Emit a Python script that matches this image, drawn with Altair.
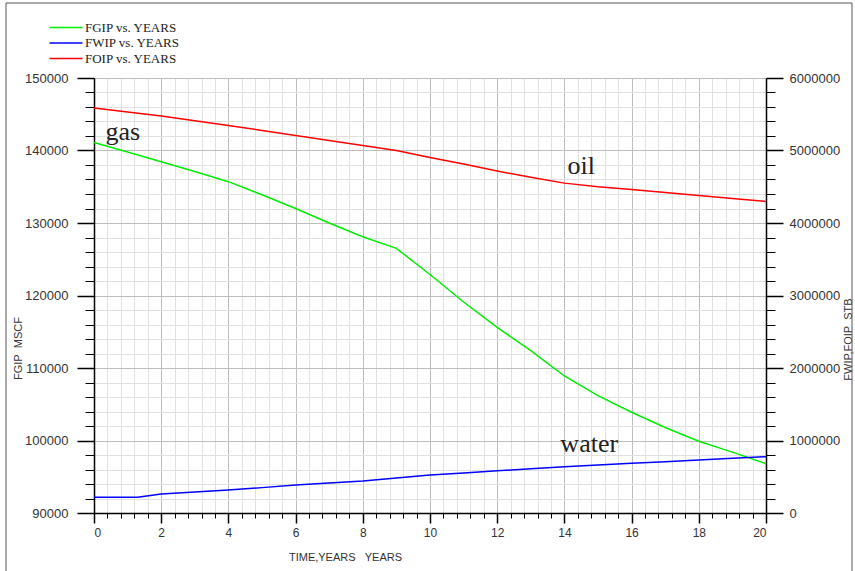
import altair as alt
import pandas as pd

# ---------------- data ----------------
YEARS = list(range(21))
FGIP = [141100, 139800, 138450, 137100, 135700, 133900, 132000, 130000,
        128100, 126500, 122900, 119100, 115600, 112400, 108900, 106200,
        103900, 101800, 99900, 98400, 96800]
FOIP = [5586000, 5530000, 5476000, 5410000, 5345000, 5276000, 5207000,
        5138000, 5069000, 5000000, 4903000, 4814000, 4717000, 4630000,
        4550000, 4500000, 4462000, 4420000, 4379000, 4338000, 4297000]
FWIP_YEARS = [0, 1, 1.3, 2, 3, 4, 5, 6, 7, 8, 9, 10, 11, 12, 13, 14, 15,
              16, 17, 18, 19, 20]
FWIP = [216000, 216000, 216000, 262000, 290000, 317000, 350000, 386000,
        413000, 441000, 482000, 524000, 553000, 582000, 610000, 638000,
        662000, 685000, 708000, 731000, 754000, 777000]

SERIES = ["FGIP vs. YEARS", "FWIP vs. YEARS", "FOIP vs. YEARS"]
COLORS = ["#00ee00", "#0000ff", "#ff0000"]

NOTE_TEXT = ["gas", "oil", "water"]
NOTE_YEARS = [0.34, 14.09, 13.88]
NOTE_VALUES = [141450, 136760, 98410]

X_MAJOR = list(range(0, 21, 2))
X_MINOR = [round(i * 0.4, 1) for i in range(51) if i % 5 != 0]
YL_MAJOR = list(range(90000, 150001, 10000))
YL_MINOR = [v for v in range(90000, 150001, 2000) if v % 10000 != 0]
YR_MAJOR = list(range(0, 6000001, 1000000))
YR_MINOR = [v for v in range(0, 6000001, 200000) if v % 1000000 != 0]

# ---------------- tables ----------------
gas_df = pd.DataFrame({"year": YEARS, "value": FGIP, "series": SERIES[0]})
stb_df = pd.concat([
    pd.DataFrame({"year": FWIP_YEARS, "value": FWIP, "series": SERIES[1]}),
    pd.DataFrame({"year": YEARS, "value": FOIP, "series": SERIES[2]}),
], ignore_index=True)
note_df = pd.DataFrame({"year": NOTE_YEARS, "value": NOTE_VALUES, "text": NOTE_TEXT})
frame_df = pd.DataFrame({"a": [0]})

# ---------------- style ----------------
SANS = "Liberation Sans"
SERIF = "Liberation Serif"
TXT = "#333333"
GRID_MAJOR = "#bdbdbd"
GRID_MINOR = "#e0e0e0"

def xs():
    return alt.Scale(domain=[0, 20], nice=False, zero=False)

def yls():
    return alt.Scale(domain=[90000, 150000], nice=False, zero=False)

def yrs():
    return alt.Scale(domain=[0, 6000000], nice=False, zero=False)

color = alt.Color(
    "series:N",
    sort=SERIES,
    scale=alt.Scale(domain=SERIES, range=COLORS),
    legend=alt.Legend(
        title=None, orient="none", legendX=-47, legendY=-57,
        symbolType="M-1,0H7.25", symbolSize=64, symbolStrokeWidth=1.5,
        labelOffset=25, labelFont=SERIF, labelFontSize=13, labelColor="#222222",
        rowPadding=1.5, padding=0,
    ),
)

# minor ticks + minor grid (left / bottom)
minor_left = alt.Chart(gas_df).mark_point(opacity=0).encode(
    x=alt.X("year:Q", scale=xs(), axis=alt.Axis(
        orient="bottom", values=X_MINOR, labels=False, domain=False,
        tickSize=5, tickColor="black", tickWidth=1, grid=True,
        gridColor=GRID_MINOR, gridWidth=1, title=None)),
    y=alt.Y("value:Q", scale=yls(), axis=alt.Axis(
        orient="left", values=YL_MINOR, labels=False, domain=False,
        tickSize=9, tickColor="black", tickWidth=1, grid=True,
        gridColor=GRID_MINOR, gridWidth=1, title=None)),
)

# FGIP line with major left / bottom axes
gas_line = alt.Chart(gas_df).mark_line(strokeWidth=1.5).encode(
    x=alt.X("year:Q", scale=xs(), axis=alt.Axis(
        orient="bottom", values=X_MAJOR, format="d", tickSize=10,
        tickColor="black", tickWidth=1.5, domainColor="black", domainWidth=1.5,
        labelFont=SANS, labelFontSize=12, labelColor=TXT, labelPadding=4,
        grid=True, gridColor=GRID_MAJOR, gridWidth=1,
        title="TIME,YEARS\u00a0\u00a0\u00a0YEARS", titleFont=SANS,
        titleFontSize=11, titleFontWeight="normal", titleColor=TXT,
        titleX=251, titleY=44, titleAlign="center", titleBaseline="middle")),
    y=alt.Y("value:Q", scale=yls(), axis=alt.Axis(
        orient="left", values=YL_MAJOR, format="d", tickSize=17,
        tickColor="black", tickWidth=1.5, domainColor="black", domainWidth=1.5,
        labelFont=SANS, labelFontSize=13, labelColor=TXT, labelPadding=9,
        grid=True, gridColor=GRID_MAJOR, gridWidth=1,
        title="FGIP\u00a0\u00a0MSCF", titleFont=SANS, titleFontSize=11,
        titleFontWeight="normal", titleColor=TXT, titleAngle=270,
        titleX=-76, titleY=270, titleAlign="center", titleBaseline="middle")),
    color=color,
)

# FWIP / FOIP lines with major right axis
stb_line = alt.Chart(stb_df).mark_line(strokeWidth=1.5).encode(
    x=alt.X("year:Q", scale=xs(), axis=None),
    y=alt.Y("value:Q", scale=yrs(), axis=alt.Axis(
        orient="right", values=YR_MAJOR, format="d", tickSize=17,
        tickColor="black", tickWidth=1.5, domainColor="black", domainWidth=1.5,
        labelFont=SANS, labelFontSize=13, labelColor=TXT, labelPadding=6,
        grid=False,
        title="FWIP,FOIP\u00a0\u00a0STB", titleFont=SANS, titleFontSize=11,
        titleFontWeight="normal", titleColor=TXT, titleAngle=270,
        titleX=82, titleY=261, titleAlign="center", titleBaseline="middle")),
    color=color,
    detail="series:N",
)

# minor ticks on the right axis
minor_right = alt.Chart(stb_df).mark_point(opacity=0).encode(
    x=alt.X("year:Q", scale=xs(), axis=None),
    y=alt.Y("value:Q", scale=yrs(), axis=alt.Axis(
        orient="right", values=YR_MINOR, labels=False, domain=False,
        tickSize=9, tickColor="black", tickWidth=1, grid=False, title=None)),
)

# curve annotations
notes = alt.Chart(note_df).mark_text(
    font=SERIF, fontSize=26, align="left", baseline="alphabetic", color="#222222"
).encode(
    x=alt.X("year:Q", scale=xs(), axis=None),
    y=alt.Y("value:Q", scale=yls(), axis=None),
    text="text:N",
)

# outer frame of the picture
frame = alt.Chart(frame_df).mark_rect(
    fill=None, stroke="#555555", strokeWidth=1, fillOpacity=0
).encode(
    x=alt.value(-88), x2=alt.value(758), y=alt.value(-75), y2=alt.value(500),
)

chart = alt.layer(
    minor_left, gas_line, stb_line, minor_right, notes, frame
).resolve_scale(
    x="independent", y="independent", color="shared"
).properties(
    width=672, height=435,
    autosize=alt.AutoSizeParams(type="none"),
    padding={"left": 94, "top": 78, "right": 89, "bottom": 58},
    background="white",
).configure_view(stroke=None)

chart.save("out.html", embed_options={"renderer": "svg", "actions": False})
